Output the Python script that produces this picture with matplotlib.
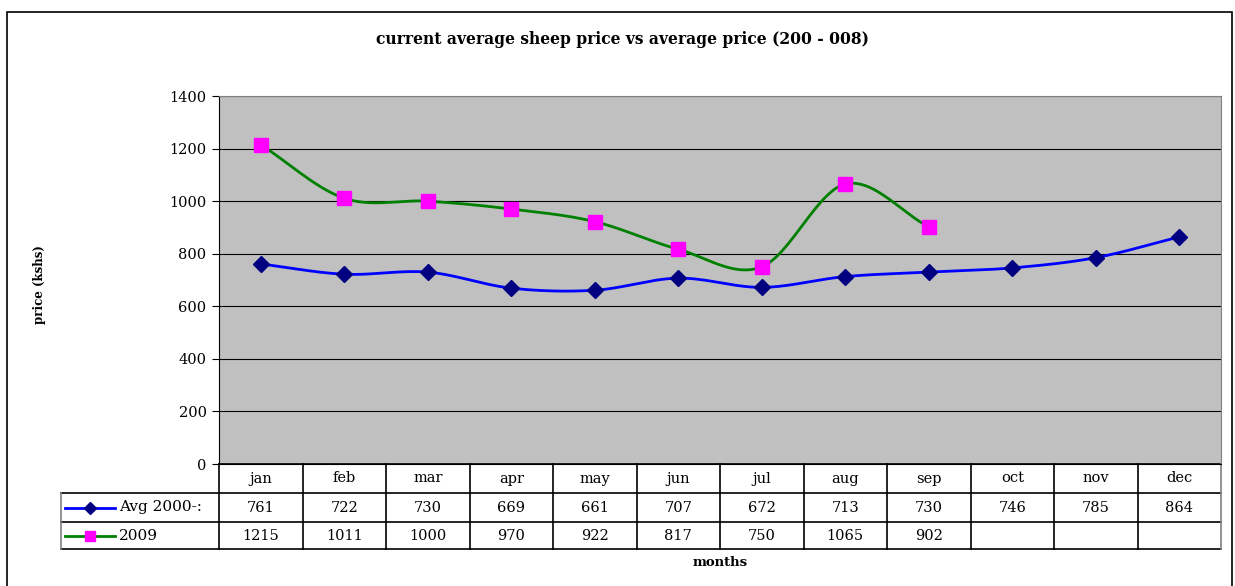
import numpy as np
import matplotlib
matplotlib.use("Agg")
import matplotlib.pyplot as plt
from matplotlib.lines import Line2D
from matplotlib.patches import Rectangle

plt.rcParams["font.family"] = ["DejaVu Serif", "Liberation Serif"]

months = ["jan", "feb", "mar", "apr", "may", "jun", "jul", "aug", "sep", "oct", "nov", "dec"]
avg_label = "Avg 2000-:"
avg_vals = [761, 722, 730, 669, 661, 707, 672, 713, 730, 746, 785, 864]
cur_label = "2009"
cur_vals = [1215, 1011, 1000, 970, 922, 817, 750, 1065, 902]

C_AVG_LINE, C_AVG_MK = "#0000ff", "#000080"
C_CUR_LINE, C_CUR_MK = "#008000", "#ff00ff"

W, H = 1235, 586


def smooth(x, y, n=30):
    """Catmull-Rom curve through the points (Excel-style smoothed line)."""
    x = np.asarray(x, float); y = np.asarray(y, float)
    px = np.concatenate([[2 * x[0] - x[1]], x, [2 * x[-1] - x[-2]]])
    py = np.concatenate([[2 * y[0] - y[1]], y, [2 * y[-1] - y[-2]]])
    xs, ys = [], []
    t = np.linspace(0, 1, n)
    for i in range(1, len(px) - 2):
        for p, out in ((px, xs), (py, ys)):
            p0, p1, p2, p3 = p[i - 1], p[i], p[i + 1], p[i + 2]
            out.extend(0.5 * ((2 * p1) + (-p0 + p2) * t
                              + (2 * p0 - 5 * p1 + 4 * p2 - p3) * t ** 2
                              + (-p0 + 3 * p1 - 3 * p2 + p3) * t ** 3))
    return np.array(xs), np.array(ys)


fig = plt.figure(figsize=(W / 100, H / 100), dpi=100)
fig.patches.append(Rectangle((7 / W, -0.01), (1232 - 7) / W, 1 - 12 / H + 0.01,
                             transform=fig.transFigure, fill=False, ec="black", lw=1.2))

L, R, T, B = 219, 1221, 96, 464
ax = fig.add_axes([L / W, 1 - B / H, (R - L) / W, (B - T) / H])
ax.set_facecolor("#c0c0c0")
ax.set_xlim(0, 12)
ax.set_ylim(0, 1400)
ax.set_yticks(range(0, 1401, 200))
ax.set_xticks([])
ax.yaxis.grid(True, color="black", lw=0.8)
ax.set_axisbelow(True)
ax.tick_params(axis="y", labelsize=10.5, length=5, direction="out", pad=4)
for s in ("top", "right"):
    ax.spines[s].set_color("#808080")
ax.spines["left"].set_color("black")
ax.spines["bottom"].set_color("black")

x_avg = np.arange(len(avg_vals)) + 0.5
x_cur = np.arange(len(cur_vals)) + 0.5
sx, sy = smooth(x_avg, avg_vals)
ax.plot(sx, sy, color=C_AVG_LINE, lw=2, zorder=3)
ax.plot(x_avg, avg_vals, "D", color=C_AVG_MK, ms=8, zorder=4, ls="none")
sx, sy = smooth(x_cur, cur_vals)
ax.plot(sx, sy, color=C_CUR_LINE, lw=2, zorder=3)
ax.plot(x_cur, cur_vals, "s", color=C_CUR_MK, ms=10, zorder=4, ls="none")

fig.text(40 / W, 1 - 285 / H, "price (kshs)", rotation=90, ha="center", va="center",
         fontsize=8.5, fontweight="bold")

fig.text(623 / W, 1 - 40 / H, "current average sheep price vs average price (200 - 008)",
         ha="center", va="center", fontsize=11.2, fontweight="bold")

# ---- data table under the axis ----
tr = ax.get_xaxis_transform()
ph = B - T
row_y = [-(py - B) / ph for py in (464, 493, 522, 549)]
x_leg = (61 - L) / ((R - L) / 12)
kw = dict(transform=tr, clip_on=False, lw=1.2)
# horizontal lines
ax.add_line(Line2D([0, 12], [row_y[0]] * 2, color="black", **kw))
for yy in row_y[1:]:
    ax.add_line(Line2D([x_leg, 12], [yy] * 2, color="black", **kw))
# vertical lines
for i in range(13):
    c = "#808080" if i == 12 else "black"
    ax.add_line(Line2D([i, i], [row_y[0], row_y[3]], color=c, **kw))
ax.add_line(Line2D([x_leg, x_leg], [row_y[1], row_y[3]], color="#808080", **kw))

tkw = dict(transform=tr, ha="center", va="center", fontsize=10.5, clip_on=False)
for i, m in enumerate(months):
    ax.text(i + 0.5, (row_y[0] + row_y[1]) / 2, m, **tkw)
for i, v in enumerate(avg_vals):
    ax.text(i + 0.5, (row_y[1] + row_y[2]) / 2, str(v), **tkw)
for i, v in enumerate(cur_vals):
    ax.text(i + 0.5, (row_y[2] + row_y[3]) / 2, str(v), **tkw)

# legend keys inside the table
for r, (lab, lc, mk, mc, ms) in enumerate([(avg_label, C_AVG_LINE, "D", C_AVG_MK, 6),
                                            (cur_label, C_CUR_LINE, "s", C_CUR_MK, 7)]):
    ym = (row_y[r + 1] + row_y[r + 2]) / 2
    x0 = x_leg + 4 / 83.5
    x1 = x_leg + 54 / 83.5
    ax.add_line(Line2D([x0, x1], [ym, ym], color=lc, lw=2, transform=tr, clip_on=False))
    ax.add_line(Line2D([(x0 + x1) / 2], [ym], marker=mk, color=mc, ms=ms, ls="none",
                       transform=tr, clip_on=False))
    ax.text(x1 + 4 / 83.5, ym, lab, transform=tr, ha="left", va="center", fontsize=11,
            clip_on=False)

ax.text(6, -(563 - B) / ph, "months", transform=tr, ha="center", va="center",
        fontsize=9.5, fontweight="bold", clip_on=False)

fig.savefig("out.png", dpi=100)
